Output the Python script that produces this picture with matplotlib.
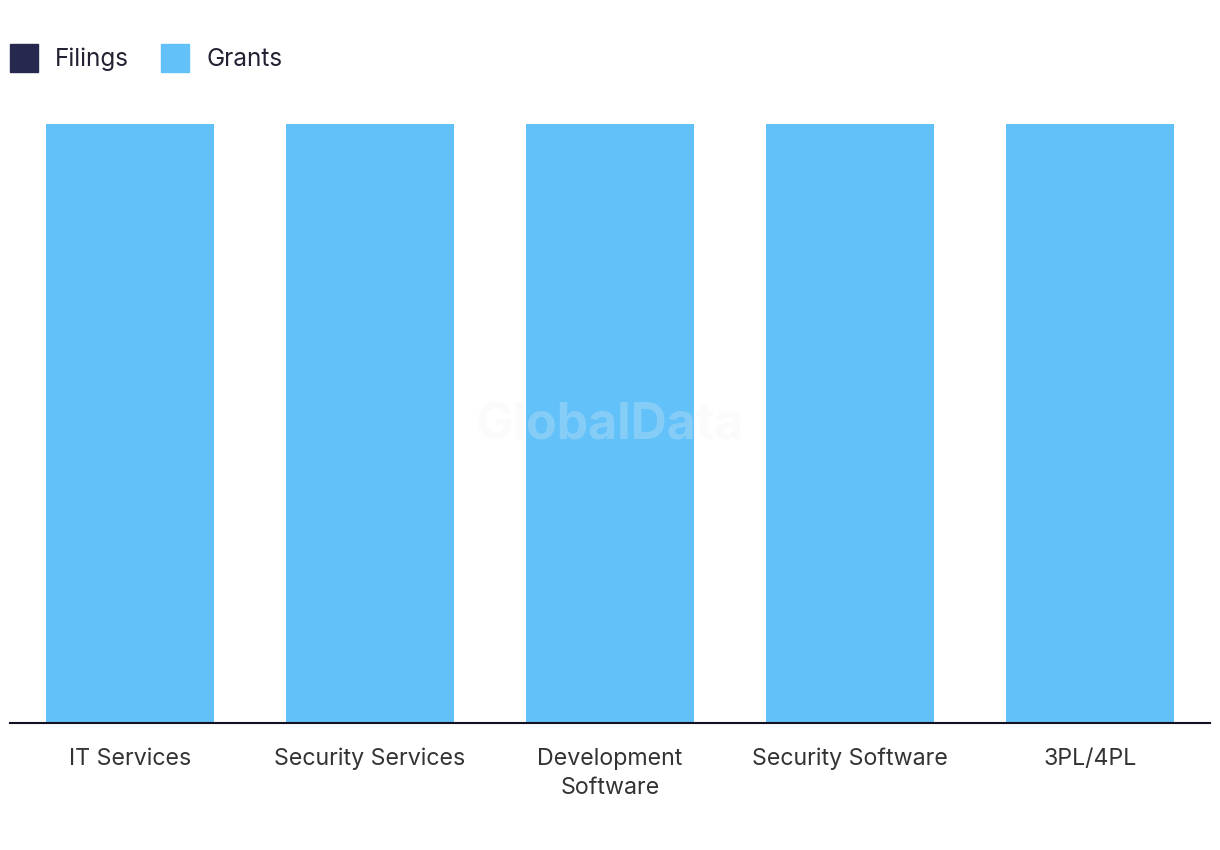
import matplotlib
matplotlib.use("Agg")
import matplotlib.pyplot as plt
from matplotlib.patches import Patch
import numpy as np

categories = ["IT Services", "Security Services", "Development\nSoftware", "Security Software", "3PL/4PL"]
filings = [0, 0, 0, 0, 0]
grants = [100, 100, 100, 100, 100]

plt.rcParams['font.family'] = ['Inter', 'DejaVu Sans']

fig = plt.figure(figsize=(12.2, 8.5), dpi=100)
ax = fig.add_axes([10/1220, 1-723/850, 1200/1220, (723-124)/850])

x = np.arange(len(categories))
ax.bar(x, filings, width=0.7, color="#26284f")
ax.bar(x, grants, bottom=filings, width=0.7, color="#62c1f9")
ax.set_xlim(-0.5, len(categories)-0.5)
ax.set_ylim(0, 100)
ax.set_xticks(x)
ax.set_xticklabels(categories, fontsize=16.7, color="#333333", linespacing=1.42)
ax.tick_params(axis='x', length=0, pad=18)
ax.set_yticks([])
for s in ["top", "right", "left"]:
    ax.spines[s].set_visible(False)
ax.spines["bottom"].set_color("#111122")
ax.spines["bottom"].set_linewidth(1.5)

ax.text(0.5, 0.495, "GlobalData", transform=ax.transAxes, ha="center", va="center",
        fontsize=36, fontweight="bold", color="#f0f0f0", alpha=0.25, zorder=5)

handles = [Patch(color="#26284f", label="Filings"), Patch(color="#62c1f9", label="Grants")]
fig.legend(handles=handles, loc="upper left", bbox_to_anchor=(10/1220, 1-44/850), ncol=2,
           frameon=False, fontsize=17.5, handlelength=1.15, handleheight=1.4,
           handletextpad=0.7, columnspacing=1.32, borderaxespad=0, borderpad=0,
           labelcolor="#222233")

fig.savefig("out.png", dpi=100)
